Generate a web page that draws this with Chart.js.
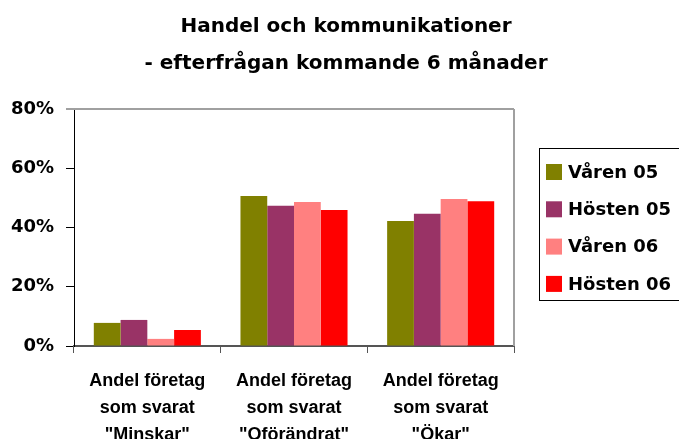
<!DOCTYPE html>
<html>
<head>
<meta charset="utf-8">
<script src="https://cdn.jsdelivr.net/npm/chart.js@4"></script>
<style>
html,body{margin:0;padding:0;background:#fff;}
#wrap{width:679px;height:439px;position:relative;}
</style>
</head>
<body>
<div id="wrap"><canvas id="c" width="679" height="439"></canvas></div>
<script>
const titleLines = ["Handel och kommunikationer", "- efterfrågan kommande 6 månader"];
const categories = [
  ["Andel företag", "som svarat", "\"Minskar\""],
  ["Andel företag", "som svarat", "\"Oförändrat\""],
  ["Andel företag", "som svarat", "\"Ökar\""]
];
const seriesNames = ["Våren 05", "Hösten 05", "Våren 06", "Hösten 06"];
const seriesColors = ["#808000", "#993366", "#FF8080", "#FF0000"];
const varen05 = [7.8, 50.6, 42.2];
const hosten05 = [8.8, 47.3, 44.6];
const varen06 = [2.4, 48.6, 49.6];
const hosten06 = [5.4, 45.9, 48.9];
const seriesValues = [varen05, hosten05, varen06, hosten06];
const yTicks = [0, 20, 40, 60, 80];

const FONT = "'Liberation Sans', Arial, sans-serif";
const WIDE = "'DejaVu Sans', sans-serif";

const decor = {
  id: 'decor',
  beforeDraw(chart) {
    const ctx = chart.ctx;
    ctx.save();
    ctx.fillStyle = '#fff';
    ctx.fillRect(0, 0, chart.width, chart.height);
    ctx.restore();
  },
  afterDraw(chart) {
    const ctx = chart.ctx;
    const a = chart.chartArea;
    ctx.save();
    // plot frame top & right (gray)
    ctx.strokeStyle = '#a0a0a0';
    ctx.lineWidth = 2;
    ctx.beginPath();
    ctx.moveTo(a.left - 8, a.top);
    ctx.lineTo(a.right, a.top);
    ctx.moveTo(a.right, a.top);
    ctx.lineTo(a.right, a.bottom);
    ctx.stroke();
    // title
    ctx.fillStyle = '#000';
    ctx.font = "bold 20px " + WIDE;
    ctx.textAlign = 'center';
    ctx.textBaseline = 'middle';
    ctx.fillText(titleLines[0], 346, 27);
    ctx.fillText(titleLines[1], 346, 64);
    // legend
    ctx.strokeStyle = '#000';
    ctx.lineWidth = 1;
    ctx.strokeRect(539.5, 148.5, 150, 152);
    ctx.font = "bold 18px " + WIDE;
    ctx.textAlign = 'left';
    chart.data.datasets.forEach((ds, i) => {
      const cy = 172 + i * 37.3;
      ctx.fillStyle = ds.backgroundColor;
      ctx.fillRect(546, cy - 8, 16, 16);
      ctx.fillStyle = '#000';
      ctx.fillText(ds.label, 568, cy + 1);
    });
    ctx.restore();
  }
};

new Chart(document.getElementById('c'), {
  type: 'bar',
  data: {
    labels: categories,
    datasets: seriesNames.map((n, i) => ({
      label: n,
      data: seriesValues[i],
      backgroundColor: seriesColors[i],
      borderWidth: 0,
      barPercentage: 1.0,
      categoryPercentage: 0.73
    }))
  },
  options: {
    responsive: false,
    animation: false,
    devicePixelRatio: 1,
    layout: { padding: { left: 0, top: 109, right: 165, bottom: 0 } },
    plugins: { legend: { display: false }, title: { display: false }, tooltip: { enabled: false } },
    scales: {
      x: {
        grid: { display: true, offset: true, drawOnChartArea: false, drawTicks: true, tickLength: 7, color: '#555', lineWidth: 1 },
        border: { display: true, color: '#555', width: 2 },
        ticks: { color: '#000', font: { family: FONT, size: 18, weight: 'bold', lineHeight: 1.52 }, padding: 14, maxRotation: 0, autoSkip: false },
        afterFit(axis) { axis.height = 93; }
      },
      y: {
        min: 0, max: 80,
        afterBuildTicks(axis) { axis.ticks = yTicks.map(v => ({ value: v })); },
        grid: { display: true, drawOnChartArea: false, drawTicks: true, tickLength: 8, color: '#000', lineWidth: 1 },
        border: { display: true, color: '#000', width: 1 },
        ticks: { color: '#000', font: { family: WIDE, size: 18, weight: 'bold' }, padding: 12, callback: v => v + '%' },
        afterFit(axis) { axis.width = 74; }
      }
    }
  },
  plugins: [decor]
});
</script>
</body>
</html>
